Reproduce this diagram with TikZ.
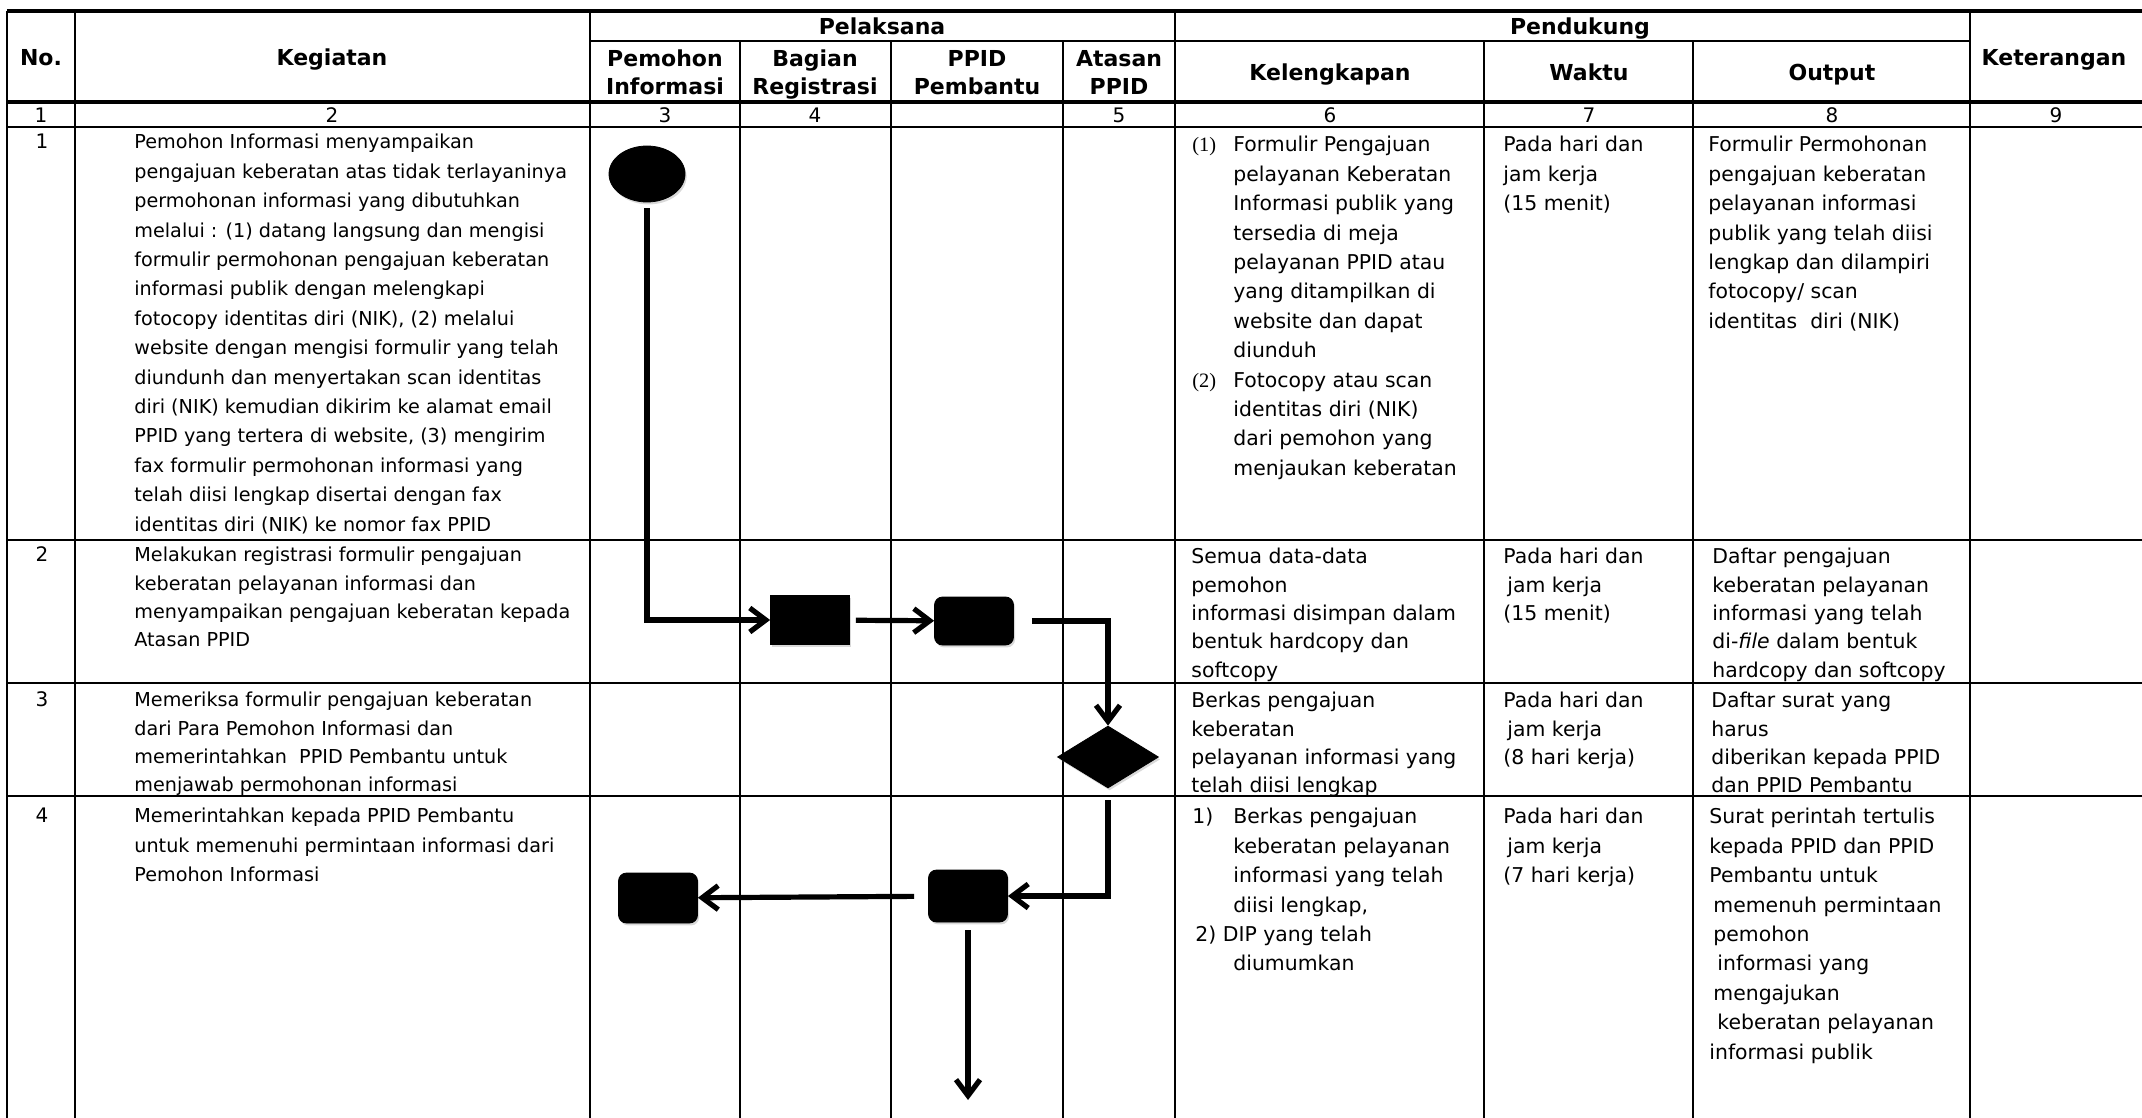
\documentclass[tikz,border=0pt]{standalone}
\usepackage{fontspec}
\setmainfont{DejaVu Sans}
\newfontfamily\listnum{Liberation Serif}
\usetikzlibrary{positioning, arrows.meta, shapes.geometric, shadows}

\begin{document}
\begin{tikzpicture}[
    x=0.5pt, y=-0.5pt,
    grid/.style={line width=1.1pt},
    frame/.style={line width=1.6pt},
    hd/.style={font=\fontsize{11}{14}\selectfont\bfseries, align=center, inner sep=0pt},
    hdl/.style={hd, anchor=base},
    idx/.style={font=\fontsize{10}{12}\selectfont, inner sep=0pt},
    txt/.style={font=\fontsize{9.6}{14.7}\selectfont, align=left, anchor=north west, inner sep=0pt, execute at begin node=\strut},
    txtt/.style={txt, font=\fontsize{9.6}{14.15}\selectfont},
    side/.style={txt, font=\fontsize{10.2}{14.7}\selectfont},
    sidet/.style={txt, font=\fontsize{10.2}{14.15}\selectfont},
    blob/.style={fill=black, draw=black, inner sep=0pt, drop shadow={shadow xshift=0.8pt, shadow yshift=-1.2pt, opacity=0.3}},
    term/.style={blob, ellipse, minimum width=38pt, minimum height=28pt},
    proc/.style={blob, rectangle, minimum width=39.5pt, minimum height=24.5pt},
    act/.style={blob, rectangle, rounded corners=4pt, minimum width=39.5pt, minimum height=24pt},
    dec/.style={blob, diamond, minimum width=50.5pt, minimum height=31pt},
    flow/.style={line width=2.6pt, -{Straight Barb[length=8pt, width=12pt]}}
]
  \useasboundingbox (0,0) rectangle (2142,1118);

  % table
  \draw[frame] (7,11) -- (2142,11);
  \draw[frame] (7,102) -- (2142,102);
  \draw[grid] (590,41) -- (1970,41);
  \draw[grid] (7,127) -- (2142,127) (7,540) -- (2142,540) (7,683) -- (2142,683) (7,796) -- (2142,796);
  \draw[grid] (7,11) -- (7,1118) (75,11) -- (75,1118) (590,11) -- (590,1118) (1175,11) -- (1175,1118) (1970,11) -- (1970,1118);
  \draw[grid] (740,41) -- (740,1118) (891,41) -- (891,1118) (1063,41) -- (1063,1118) (1484,41) -- (1484,1118) (1693,41) -- (1693,1118);

  % header
  \node[hdl] (hno) at (41,66) {No.};
  \node[hdl] (hkeg) at (332,66) {Kegiatan};
  \node[hdl] (hpel) at (882,35) {Pelaksana};
  \node[hdl] (hpen) at (1580,35) {Pendukung};
  \node[hdl] (hket) at (2054,66) {Keterangan};
  \node[hd] (hpem) at (665,75) {\strut Pemohon\\\strut Informasi};
  \node[hd] (hbag) at (815,75) {\strut Bagian\\\strut Registrasi};
  \node[hd] (hpb) at (977,75) {\strut PPID\\\strut Pembantu};
  \node[hd] (hat) at (1119,75) {\strut Atasan\\\strut PPID};
  \node[hdl] (hkel) at (1330,81) {Kelengkapan};
  \node[hdl] (hwak) at (1589,81) {Waktu};
  \node[hdl] (hout) at (1832,81) {Output};

  \node[idx] (c1) at (41,115) {1};
  \node[idx] (c2) at (332,115) {2};
  \node[idx] (c3) at (665,115) {3};
  \node[idx] (c4) at (815,115) {4};
  \node[idx] (c5) at (1119,115) {5};
  \node[idx] (c6) at (1330,115) {6};
  \node[idx] (c7) at (1589,115) {7};
  \node[idx] (c8) at (1832,115) {8};
  \node[idx] (c9) at (2056,115) {9};

  % rows
  \node[idx] (r1) at (42,141) {1};
  \node[idx] (r2) at (42,554) {2};
  \node[idx] (r3) at (42,699) {3};
  \node[idx] (r4) at (42,815) {4};

  \node[txt] (k1) at (134,134) {Pemohon Informasi menyampaikan\\pengajuan keberatan atas tidak terlayaninya\\permohonan informasi yang dibutuhkan\\melalui : (1) datang langsung dan mengisi\\formulir permohonan pengajuan keberatan\\informasi publik dengan melengkapi\\fotocopy identitas diri (NIK), (2) melalui\\website dengan mengisi formulir yang telah\\diundunh dan menyertakan scan identitas\\diri (NIK) kemudian dikirim ke alamat email\\PPID yang tertera di website, (3) mengirim\\fax formulir permohonan informasi yang\\telah diisi lengkap disertai dengan fax\\identitas diri (NIK) ke nomor fax PPID};
  \node[txtt] (k2) at (134,547) {Melakukan registrasi formulir pengajuan\\keberatan pelayanan informasi dan\\menyampaikan pengajuan keberatan kepada\\Atasan PPID};
  \node[txtt] (k3) at (134,692) {Memeriksa formulir pengajuan keberatan\\dari Para Pemohon Informasi dan\\memerintahkan\ \ PPID Pembantu untuk\\menjawab permohonan informasi};
  \node[txt] (k4) at (134,808) {Memerintahkan kepada PPID Pembantu\\untuk memenuhi permintaan informasi dari\\Pemohon Informasi};

  \node[side] (l1) at (1192,136) {\makebox[20.5pt][l]{\listnum(1)}Formulir Pengajuan\\\hspace*{20.5pt}pelayanan Keberatan\\\hspace*{20.5pt}Informasi publik yang\\\hspace*{20.5pt}tersedia di meja\\\hspace*{20.5pt}pelayanan PPID atau\\\hspace*{20.5pt}yang ditampilkan di\\\hspace*{20.5pt}website dan dapat\\\hspace*{20.5pt}diunduh\\\makebox[20.5pt][l]{\listnum(2)}Fotocopy atau scan\\\hspace*{20.5pt}identitas diri (NIK)\\\hspace*{20.5pt}dari pemohon yang\\\hspace*{20.5pt}menjaukan keberatan};
  \node[sidet] (l2) at (1191,548) {Semua data-data\\pemohon\\informasi disimpan dalam\\bentuk hardcopy dan\\softcopy};
  \node[sidet] (l3) at (1191,692) {Berkas pengajuan\\keberatan\\pelayanan informasi yang\\telah diisi lengkap};
  \node[side] (l4) at (1192,808) {\makebox[20.5pt][l]{1)}Berkas pengajuan\\\hspace*{20.5pt}keberatan pelayanan\\\hspace*{20.5pt}informasi yang telah\\\hspace*{20.5pt}diisi lengkap,\\\hspace*{1.5pt}2) DIP yang telah\\\hspace*{20.5pt}diumumkan};

  \node[side] (w1) at (1503,136) {Pada hari dan\\jam kerja\\(15 menit)};
  \node[sidet] (w2) at (1503,548) {Pada hari dan\\\hspace*{2pt}jam kerja\\(15 menit)};
  \node[sidet] (w3) at (1503,692) {Pada hari dan\\\hspace*{2pt}jam kerja\\(8 hari kerja)};
  \node[side] (w4) at (1503,808) {Pada hari dan\\\hspace*{2pt}jam kerja\\(7 hari kerja)};

  \node[side] (o1) at (1708,136) {Formulir Permohonan\\pengajuan keberatan\\pelayanan informasi\\publik yang telah diisi\\lengkap dan dilampiri\\fotocopy/ scan\\identitas\ \ diri (NIK)};
  \node[sidet] (o2) at (1712,548) {Daftar pengajuan\\keberatan pelayanan\\informasi yang telah\\di-\textit{file} dalam bentuk\\hardcopy dan softcopy};
  \node[sidet] (o3) at (1711,692) {Daftar surat yang\\harus\\diberikan kepada PPID\\dan PPID Pembantu};
  \node[side] (o4) at (1709,808) {Surat perintah tertulis\\kepada PPID dan PPID\\Pembantu untuk\\\hspace*{2pt}memenuh permintaan\\\hspace*{2pt}pemohon\\\hspace*{4pt}informasi yang\\\hspace*{2pt}mengajukan\\\hspace*{4pt}keberatan pelayanan\\informasi publik};

  % flow
  \node[term] (start) at (647,174) {};
  \node[proc] (reg) at (810,620) {};
  \node[act] (pp1) at (974,621) {};
  \node[dec] (cek) at (1108,757) {};
  \node[act, minimum height=26pt] (pp2) at (968,896) {};
  \node[act, minimum height=25pt] (pem) at (658,898) {};
  \coordinate (nx) at (968,1100);

  \draw[flow, shorten <=3pt] (start) |- (reg);
  \draw[flow, shorten <=3pt] (reg) -- (pp1);
  \draw[flow, shorten <=9pt] (pp1) -| (cek);
  \draw[flow, shorten <=6pt] (cek) |- (pp2);
  \draw[flow, shorten <=7pt] (pp2) -- (pem);
  \draw[flow, shorten <=4pt] (pp2) -- (nx);
\end{tikzpicture}
\end{document}
